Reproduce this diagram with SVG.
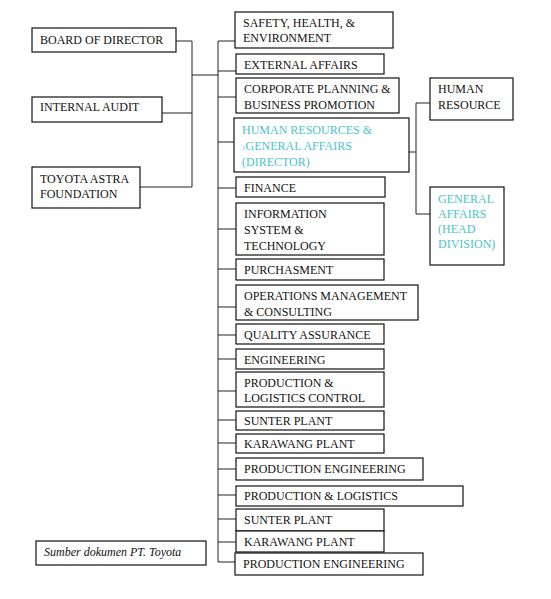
<svg xmlns="http://www.w3.org/2000/svg" width="551" height="599" viewBox="0 0 551 599">
<style>
rect.b{fill:#fff;stroke:#111;stroke-width:1.2}
text{font-family:"Liberation Serif","Times New Roman",serif;font-size:12px;fill:#111}
text.c{fill:#4cc3c8}
text.i{font-style:italic}
#connectors path{fill:none;stroke:#222;stroke-width:1}
</style>
<rect width="551" height="599" fill="#fff"/>
<g id="connectors">
<path d="M176 41H192V187H140M162 113H192M192 75H218"/>
<path d="M218 41V562H235"/>
<path d="M218 41H235M218 71H236M218 97H236M218 142H234M218 188H236M218 229H236M218 269H236M218 307H236M218 335H236M218 359H236M218 391H236M218 420H236M218 443H236M218 469H236M218 495H236M218 519H236M218 542H236"/>
<path d="M409 152H416M416 103V214M416 103H430M416 214H430"/>
</g>
<g id="board"><rect class="b" x="32" y="28" width="144" height="24"/><text x="40" y="44">BOARD OF DIRECTOR</text></g>
<g id="audit"><rect class="b" x="32" y="97" width="130" height="25"/><text x="40" y="111">INTERNAL AUDIT</text></g>
<g id="foundation"><rect class="b" x="32" y="167" width="108" height="41"/><text x="40" y="183">TOYOTA ASTRA</text><text x="40" y="198">FOUNDATION</text></g>
<g id="safety"><rect class="b" x="235" y="12" width="158" height="36"/><text x="243" y="27">SAFETY, HEALTH, &amp;</text><text x="243" y="42">ENVIRONMENT</text></g>
<g id="external"><rect class="b" x="236" y="54" width="148" height="20"/><text x="244" y="69">EXTERNAL AFFAIRS</text></g>
<g id="corporate"><rect class="b" x="236" y="78" width="163" height="35"/><text x="244" y="93">CORPORATE PLANNING &amp;</text><text x="244" y="109">BUSINESS PROMOTION</text></g>
<g id="hrga"><rect class="b" x="234" y="118" width="175" height="54"/><text class="c" x="242" y="134">HUMAN RESOURCES &amp;</text><text class="c" x="242" y="150"><tspan font-size="7">1</tspan>GENERAL AFFAIRS</text><text class="c" x="242" y="166">(DIRECTOR)</text></g>
<g id="hr"><rect class="b" x="430" y="78" width="83" height="42"/><text x="438" y="93">HUMAN</text><text x="438" y="109">RESOURCE</text></g>
<g id="ga"><rect class="b" x="430" y="187" width="74" height="78"/><text class="c" x="438" y="203">GENERAL</text><text class="c" x="438" y="218">AFFAIRS</text><text class="c" x="438" y="233">(HEAD</text><text class="c" x="438" y="248">DIVISION)</text></g>
<g id="finance"><rect class="b" x="236" y="177" width="149" height="20"/><text x="244" y="192">FINANCE</text></g>
<g id="ist"><rect class="b" x="236" y="203" width="148" height="52"/><text x="244" y="218">INFORMATION</text><text x="244" y="234">SYSTEM &amp;</text><text x="244" y="250">TECHNOLOGY</text></g>
<g id="purchasment"><rect class="b" x="236" y="259" width="148" height="21"/><text x="244" y="274">PURCHASMENT</text></g>
<g id="operations"><rect class="b" x="236" y="285" width="182" height="35"/><text x="244" y="300">OPERATIONS MANAGEMENT</text><text x="244" y="316">&amp; CONSULTING</text></g>
<g id="quality"><rect class="b" x="236" y="324" width="148" height="20"/><text x="244" y="339">QUALITY ASSURANCE</text></g>
<g id="engineering"><rect class="b" x="236" y="349" width="148" height="20"/><text x="244" y="364">ENGINEERING</text></g>
<g id="plc"><rect class="b" x="236" y="372" width="148" height="35"/><text x="244" y="387">PRODUCTION &amp;</text><text x="244" y="402">LOGISTICS CONTROL</text></g>
<g id="sunter1"><rect class="b" x="236" y="411" width="148" height="19"/><text x="244" y="425">SUNTER PLANT</text></g>
<g id="karawang1"><rect class="b" x="236" y="434" width="148" height="19"/><text x="244" y="448">KARAWANG PLANT</text></g>
<g id="pe1"><rect class="b" x="236" y="458" width="187" height="22"/><text x="244" y="473">PRODUCTION ENGINEERING</text></g>
<g id="pl"><rect class="b" x="236" y="486" width="227" height="20"/><text x="244" y="500">PRODUCTION &amp; LOGISTICS</text></g>
<g id="sunter2"><rect class="b" x="236" y="509" width="148" height="22"/><text x="244" y="524">SUNTER PLANT</text></g>
<g id="karawang2"><rect class="b" x="236" y="531" width="148" height="21"/><text x="244" y="546">KARAWANG PLANT</text></g>
<g id="pe2"><rect class="b" x="235" y="553" width="188" height="22"/><text x="243" y="568">PRODUCTION ENGINEERING</text></g>
<g id="source"><rect class="b" x="36" y="541" width="170" height="24"/><text class="i" x="44" y="556">Sumber dokumen PT. Toyota</text></g>
</svg>
